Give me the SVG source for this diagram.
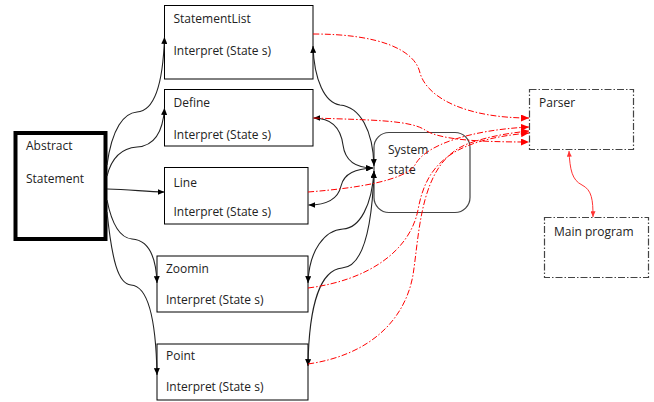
<svg xmlns="http://www.w3.org/2000/svg" width="654" height="402" viewBox="0 0 654 402">
<defs>
<marker id="ab" viewBox="0 0 8 7" refX="8" refY="3.5" markerWidth="7" markerHeight="6" markerUnits="userSpaceOnUse" orient="auto-start-reverse"><path d="M0,0 L8,3.5 L0,7 z" fill="#000"/></marker>
<marker id="ar" viewBox="0 0 8 7" refX="8" refY="3.5" markerWidth="8" markerHeight="7" markerUnits="userSpaceOnUse" orient="auto-start-reverse"><path d="M0,0 L8,3.5 L0,7 z" fill="#ff0000"/></marker>
<marker id="as" viewBox="0 0 8 7" refX="8" refY="3.5" markerWidth="6" markerHeight="5" markerUnits="userSpaceOnUse" orient="auto-start-reverse"><path d="M0,0 L8,3.5 L0,7 z" fill="#ff3333"/></marker>
</defs>
<style>
text{font-family:"Open Sans","Liberation Sans",Arial,sans-serif;font-size:12px;fill:#222}
.box{fill:#fff;stroke:#000;stroke-width:1}
.dd{fill:#fff;stroke:#444;stroke-width:1.2;stroke-dasharray:7 2 1.5 2}
.bk{fill:none;stroke:#222;stroke-width:1.1}
.rd{fill:none;stroke:#ff0000;stroke-width:1;stroke-dasharray:6 2 1.5 2;marker-end:url(#ar)}
</style>
<g id="abstract">
<rect x="15.5" y="133" width="90" height="106" fill="#fff" stroke="#000" stroke-width="4"/>
<text x="26" y="150">Abstract</text>
<text x="26" y="183">Statement</text>
</g>
<g id="statementlist">
<rect class="box" x="164.5" y="5.5" width="148.5" height="73.5"/>
<text x="173.5" y="23">StatementList</text>
<text x="173.5" y="55">Interpret (State s)</text>
</g>
<g id="define">
<rect class="box" x="164.5" y="89.5" width="148.5" height="56.5"/>
<text x="173.5" y="107">Define</text>
<text x="173.5" y="139">Interpret (State s)</text>
</g>
<g id="line">
<rect class="box" x="164.5" y="167.5" width="143.5" height="56.5"/>
<text x="173.5" y="187">Line</text>
<text x="173.5" y="216">Interpret (State s)</text>
</g>
<g id="zoomin">
<rect class="box" x="157" y="256" width="151" height="56"/>
<text x="166" y="273">Zoomin</text>
<text x="166" y="304">Interpret (State s)</text>
</g>
<g id="point">
<rect class="box" x="157" y="344" width="151" height="56"/>
<text x="166" y="360">Point</text>
<text x="166" y="391">Interpret (State s)</text>
</g>
<g id="systemstate">
<rect x="374" y="132.5" width="96" height="80" rx="15" ry="15" fill="#fff" stroke="#444" stroke-width="1.2"/>
<text x="388" y="154">System</text>
<text x="388" y="174">state</text>
</g>
<g id="parser">
<rect class="dd" x="529.5" y="89.5" width="104" height="60"/>
<text x="539" y="107">Parser</text>
</g>
<g id="mainprogram">
<rect class="dd" x="544.5" y="217.5" width="104" height="60"/>
<text x="554" y="236">Main program</text>
</g>
<g id="connectors">
<path class="bk" marker-end="url(#ab)" d="M107,165 C112,128 124,113 137,112 C154,111 163,85 164.5,37"/>
<path class="bk" marker-end="url(#ab)" d="M107,176 C112,156 123,148 137,147 C154,146 163,132 164.5,108"/>
<path class="bk" marker-end="url(#ab)" d="M107,189 C130,189 145,192 164.5,192"/>
<path class="bk" marker-end="url(#ab)" d="M107,200 C112,225 120,238 132,239 C148,240 156,255 157,283"/>
<path class="bk" marker-end="url(#ab)" d="M107,212 C112,260 118,284 131,285 C148,286 156,320 157,375"/>
<path class="bk" marker-start="url(#ab)" marker-end="url(#ab)" d="M313,46 C314,80 325,103 340,105 C360,107 373,130 374,166"/>
<path class="bk" marker-start="url(#ab)" marker-end="url(#ab)" d="M313.5,118 C333,118 341,130 343,145 C345,160 355,168 373,168"/>
<path class="bk" marker-start="url(#ab)" marker-end="url(#ab)" d="M308.5,205 C333,205 339,195 341,186 C344,173 356,169 373,168"/>
<path class="bk" marker-end="url(#ab)" marker-start="url(#ab)" d="M374,171 C372,205 360,228 343,229 C325,230 309,250 308,283"/>
<path class="bk" marker-end="url(#ab)" marker-start="url(#ab)" d="M374,171 C372,230 362,267 342,268 C322,270 309,300 308,366"/>
<path class="rd" d="M313,34 C380,34 415,50 420,73 C428,100 470,118 529,118"/>
<path class="rd" d="M313.5,118 C370,120 410,120 425,130 C440,140 480,142 529,142"/>
<path class="rd" d="M308,192 C360,188 405,180 415,165 C425,145 470,130 529,127"/>
<path class="rd" d="M308,288 C370,280 410,250 418,210 C426,165 450,140 529,133"/>
<path class="rd" d="M308,364 C370,355 405,320 413,275 C420,230 420,160 470,143 C490,136 510,133 529,131"/>
<path fill="none" stroke="#ff3333" stroke-width="1" marker-start="url(#as)" marker-end="url(#as)" d="M569,151 C570,170 572,180 582,185 C592,190 593,200 593,217"/>
</g>
</svg>
